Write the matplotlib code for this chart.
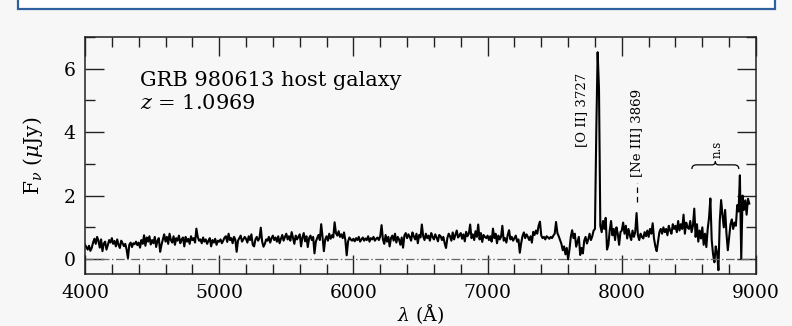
import numpy as np
import matplotlib
matplotlib.use('Agg')
import matplotlib.pyplot as plt
from matplotlib.path import Path
from matplotlib.patches import PathPatch, Rectangle
from matplotlib.ticker import MultipleLocator

plt.rcParams['font.family'] = 'DejaVu Serif'
plt.rcParams['mathtext.fontset'] = 'dejavuserif'

# -------------------------------
# Data, 10 A bins from 4000 A
# -------------------------------
wave_start = 4000
wave_step = 10
flux = [
    0.45, 0.38, 0.30, 0.42, 0.26, 0.35, 0.52, 0.64, 0.48, 0.70,
    0.58, 0.36, 0.62, 0.25, 0.49, 0.55, 0.30, 0.44, 0.60, 0.52,
    0.66, 0.48, 0.57, 0.40, 0.62, 0.45, 0.35, 0.58, 0.50, 0.41,
    0.48, 0.30, 0.03, 0.45, 0.52, 0.38, 0.50, 0.47, 0.55, 0.44,
    0.52, 0.36, 0.60, 0.48, 0.75, 0.42, 0.68, 0.55, 0.72, 0.46,
    0.60, 0.50, 0.70, 0.38, 0.58, 0.66, 0.23, 0.45, 0.62, 0.78,
    0.55, 0.70, 0.48, 0.80, 0.60, 0.52, 0.72, 0.45, 0.66, 0.58,
    0.74, 0.50, 0.62, 0.68, 0.40, 0.70, 0.55, 0.64, 0.48, 0.72,
    0.60, 0.66, 0.52, 0.96, 0.70, 0.58, 0.62, 0.50, 0.68, 0.55,
    0.62, 0.48, 0.58, 0.66, 0.40, 0.60, 0.52, 0.64, 0.45, 0.58,
    0.55, 0.62, 0.50, 0.58, 0.68, 0.72, 0.54, 0.80, 0.60, 0.66,
    0.50, 0.70, 0.62, 0.23, 0.58, 0.66, 0.74, 0.55, 0.62, 0.70,
    0.64, 0.52, 0.72, 0.60, 0.78, 0.45, 0.40, 0.62, 0.70, 0.58,
    0.66, 0.99, 0.55, 0.39, 0.48, 0.62, 0.58, 0.70, 0.52, 0.66,
    0.74, 0.60, 0.68, 0.55, 0.72, 0.50, 0.64, 0.76, 0.58, 0.70,
    0.80, 0.62, 0.72, 0.58, 0.85, 0.66, 0.48, 0.74, 0.62, 0.70,
    0.78, 0.40, 0.68, 0.82, 0.56, 0.72, 0.38, 0.66, 0.74, 0.60,
    0.70, 0.18, 0.55, 0.66, 0.76, 0.60, 1.10, 0.70, 0.25, 0.62,
    0.72, 0.58, 0.80, 0.64, 0.75, 0.68, 1.16, 0.82, 0.74, 0.88,
    0.70, 0.78, 0.66, 0.84, 0.60, 0.12, 0.55, 0.68, 0.62, 0.58,
    0.64, 0.56, 0.66, 0.60, 0.70, 0.55, 0.62, 0.68, 0.58, 0.65,
    0.60, 0.72, 0.55, 0.66, 0.62, 0.70, 0.58, 0.64, 0.68, 0.60,
    0.72, 1.07, 0.62, 0.48, 0.76, 0.55, 0.70, 0.40, 0.66, 0.74,
    0.58, 0.80, 0.52, 0.70, 0.62, 0.45, 0.68, 0.36, 0.74, 0.82,
    0.66, 0.78, 0.70, 0.58, 0.84, 0.72, 0.62, 0.80, 0.50, 0.76,
    0.68, 1.09, 0.72, 0.60, 0.80, 0.66, 0.74, 0.58, 0.82, 0.70,
    0.62, 0.78, 0.68, 0.56, 0.76, 0.72, 0.60, 0.70, 0.50, 0.35,
    0.66, 0.80, 0.72, 0.58, 0.84, 0.62, 0.76, 0.90, 0.68, 0.74,
    0.82, 0.64, 0.78, 0.56, 0.86, 0.72, 0.80, 1.09, 0.66, 0.78,
    0.60, 0.88, 0.70, 1.09, 0.62, 0.82, 0.54, 0.76, 0.70, 0.66,
    0.74, 0.60, 0.72, 0.55, 0.96, 0.66, 0.80, 0.50, 0.74, 0.62,
    0.70, 1.05, 0.58, 0.66, 0.52, 0.76, 0.91, 0.62, 0.70, 0.58,
    0.66, 0.74, 0.55, 0.62, 0.20, 0.50, 0.72, 0.84, 0.66, 0.78,
    0.70, 0.60, 0.72, 0.52, 0.86, 0.76, 0.90, 0.80, 1.05, 1.18,
    0.74, 0.66, 0.70, 0.62, 0.72, 0.68, 0.64, 0.70, 0.66, 0.74,
    0.80, 1.17, 0.82, 0.72, 0.60, 0.48, 0.28, 0.40, 0.15, 0.35,
    -0.01, 0.30, 0.70, 0.91, 0.66, 0.80, 0.39, 0.55, 0.70, 0.13,
    0.35, 0.18, 0.58, 0.70, 0.49, 0.62, 0.80, 0.60, 0.72, 0.90,
    0.95, 4.06, 6.52, 5.37, 1.05, 0.85, 1.20, 0.95, 1.30, 0.30,
    0.45, 0.90, 1.20, 0.75, 0.95, 0.60, 1.00, 0.80, 0.45, 0.85,
    0.90, 1.15, 0.80, 1.05, 0.65, 0.95, 0.75, 0.60, 0.90, 0.70,
    0.85, 1.45, 0.75, 0.60, 0.80, 0.70, 0.65, 0.85, 0.72, 0.90,
    0.70, 0.95, 0.80, 1.13, 0.65, 0.40, 0.25, 0.55, 0.85, 0.95,
    0.80, 1.00, 0.85, 0.95, 0.75, 1.05, 0.90, 0.80, 1.10, 0.95,
    1.05, 0.85, 1.20, 0.90, 1.10, 0.95, 1.40, 0.80, 1.15, 1.00,
    0.95, 1.20, 0.85, 1.05, 1.59, 0.70, 1.10, 0.55, 0.90, 0.65,
    1.00, 0.45, 0.80, 0.38, 0.95, 1.30, 1.91, 0.60, 0.15, -0.10,
    0.40, 0.20, -0.35, 1.20, 1.86, 1.40, 1.00, 1.55, 0.80, 0.28,
    0.70, 1.10, 1.25, 0.95, 1.15, 1.05, 1.70, 1.50, 2.64, 0.00,
    2.00, 1.55, 1.85, 1.40, 1.90, 1.75,
]
wave = wave_start + wave_step * np.arange(len(flux))

title_lines = ['GRB 980613 host galaxy', r'$z$ = 1.0969']
line_labels = ['[O II] 3727', '[Ne III] 3869']
line_label_pos = [(7700, 4.69), (8110, 3.98)]
ns_range = (8522, 8872)

# -------------------------------
# Figure
# -------------------------------
bg = '#f7f7f7'
fig = plt.figure(figsize=(7.92, 3.26), dpi=100, facecolor=bg)
fig.patches.append(Rectangle((18 / 792, 1 - 8.5 / 326), 757 / 792, 0.2,
                             transform=fig.transFigure, facecolor='white',
                             edgecolor='#2f5f9f', linewidth=1.6))
ax = fig.add_axes([85 / 792, 1 - 274 / 326, 671 / 792, 237 / 326], facecolor=bg)

ax.plot(wave, flux, color='black', linewidth=1.5)
ax.axhline(0, color='#666666', linewidth=0.9, dashes=(7, 2, 1.2, 2))

ax.set_xlim(4000, 9000)
ax.set_ylim(-0.47, 7.0)
ax.xaxis.set_major_locator(MultipleLocator(1000))
ax.xaxis.set_minor_locator(MultipleLocator(200))
ax.yaxis.set_major_locator(MultipleLocator(2))
ax.yaxis.set_minor_locator(MultipleLocator(1))
ax.tick_params(which='both', direction='in', top=True, right=True,
               labelsize=13.5, color='#222222', width=1.0)
ax.tick_params(which='major', length=14, pad=7)
ax.tick_params(which='minor', length=7.5)
for s in ax.spines.values():
    s.set_linewidth(1.1)
    s.set_color('#222222')

ax.set_xlabel(r'$\lambda$ (Å)', fontsize=13.5, labelpad=0)
ax.set_ylabel(r'F$_\nu$ ($\mu$Jy)', fontsize=14.5, labelpad=13)

ax.text(4409, 5.63, title_lines[0], fontsize=15, va='center')
ax.text(4409, 4.90, title_lines[1], fontsize=15, va='center')

for lab, (x, y) in zip(line_labels, line_label_pos):
    ax.text(x, y, lab, rotation=90, fontsize=9.5, ha='center', va='center')
ax.plot([8110, 8110], [1.79, 2.39], color='black', linewidth=0.9,
        dashes=(4.5, 3))

# brace over the n.s. region
x0, x1 = ns_range
xm = (x0 + x1) / 2
verts = [(x0, 2.84), (x0, 2.97), (x0 + 35, 2.97), (xm - 25, 2.97),
         (xm, 2.97), (xm, 3.08), (xm, 2.97), (xm + 25, 2.97),
         (x1 - 35, 2.97), (x1, 2.97), (x1, 2.84)]
codes = [Path.MOVETO, Path.CURVE3, Path.CURVE3, Path.LINETO,
         Path.CURVE3, Path.CURVE3, Path.CURVE3, Path.CURVE3,
         Path.LINETO, Path.CURVE3, Path.CURVE3]
ax.add_patch(PathPatch(Path(verts, codes), facecolor='none', edgecolor='black',
                       linewidth=0.9))
ax.text(xm + 10, 3.45, 'n.s', rotation=90, fontsize=8.5, ha='center', va='center')

fig.savefig('out.png', dpi=100, facecolor=bg)
